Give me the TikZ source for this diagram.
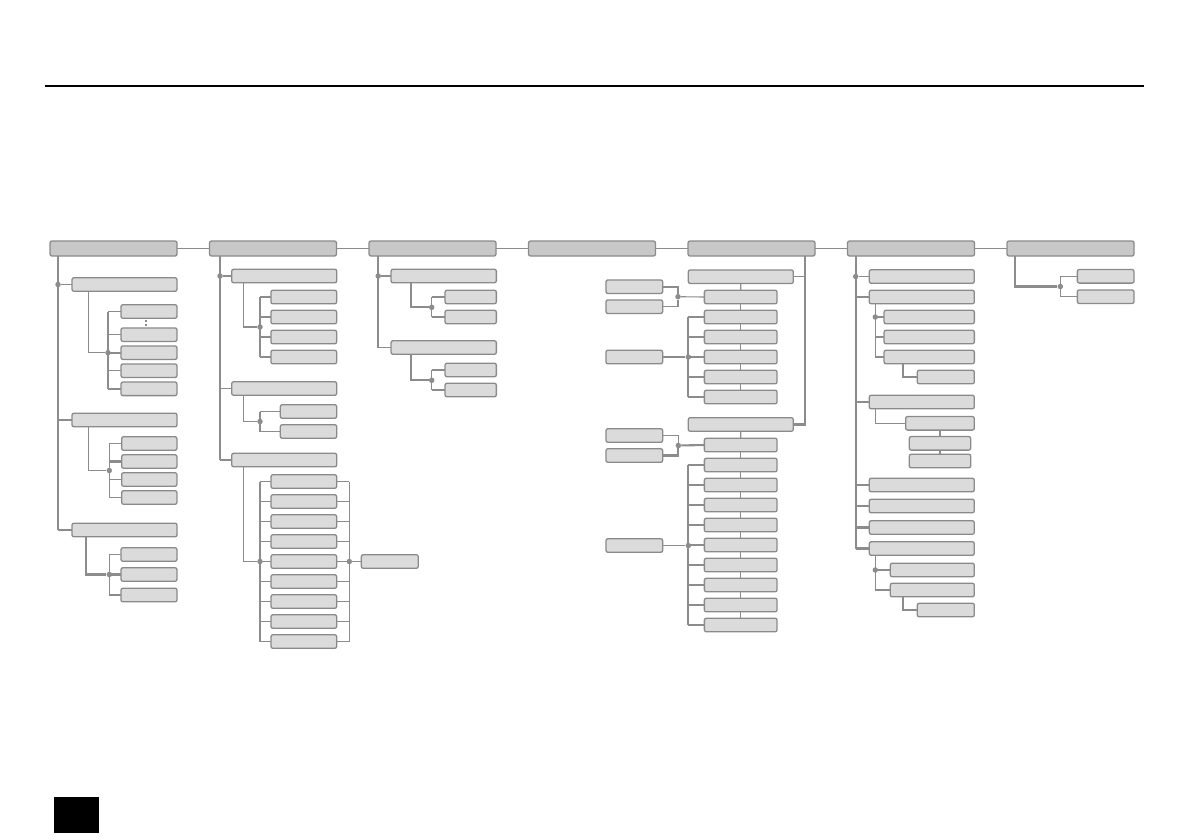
\documentclass[tikz,border=0pt]{standalone}
\usepackage{tikz}
\usetikzlibrary{positioning}
\definecolor{MenuEdge}{HTML}{8A8A8A}
\definecolor{MenuTop}{HTML}{C8C8C8}
\definecolor{MenuSub}{HTML}{DBDBDB}
\definecolor{MenuLink}{HTML}{8C8C8C}

\begin{document}
\begin{tikzpicture}[
            x=1pt,y=-1pt,
            menu/.style={draw=MenuEdge,fill=MenuSub,line width=1.3pt,rounded corners=2pt,
              inner sep=0pt,outer sep=0pt,minimum height=13.6pt},
            topbox/.style={menu,fill=MenuTop,minimum width=127pt,minimum height=15pt},
            link/.style={draw=MenuLink,line width=1.1pt},
            heavy/.style={draw=MenuLink,line width=2.1pt},
            dot/.style={circle,fill=MenuLink,inner sep=0pt,minimum size=5.5pt}
          ]
          \useasboundingbox (0,0) rectangle (1191,839);
          \draw[line width=2.3pt] (45,86) -- (1144,86);
          \fill (54,797) rectangle (99,833);

          % top row
          \foreach \i/\x in {1/113.5,2/273,3/432.5,4/592,5/751.5,6/911,7/1070.5}
            \node[topbox] (m\i) at (\x,248.5) {};
          \foreach \i/\j in {1/2,2/3,3/4,4/5,5/6,6/7}
            \draw[link] (m\i.east) -- (m\j.west);

          % column 1
          \node[menu,minimum width=105pt] (m1a) at (124.5,284.5) {};
          \foreach \k/\y in {1/311.5,2/334.7,3/352.7,4/370.7,5/388.8}
            \node[menu,minimum width=56pt] (m1a\k) at (149,\y) {};
          \node[menu,minimum width=105pt] (m1b) at (124.5,420) {};
          \foreach \k/\y in {1/443.5,2/461.5,3/479.5,4/497.5}
            \node[menu,minimum width=55.3pt] (m1b\k) at (149.3,\y) {};
          \node[menu,minimum width=105pt] (m1c) at (124.5,530) {};
          \foreach \k/\y in {1/554.5,2/574.5,3/595}
            \node[menu,minimum width=56pt] (m1c\k) at (149,\y) {};
          \coordinate (s1) at ([xshift=8pt]m1.south west);
          \node[dot] (j1) at (s1 |- m1a.west) {};
          \node[dot] (j1a) at (108,352.7) {};
          \node[dot] (j1b) at (109.3,470.5) {};
          \node[dot] (j1c) at (109.3,574.5) {};
          \draw[link] (s1) -- (s1 |- m1c.west);
          \draw[link] (j1) -- (m1a.west);
          \draw[link] (s1 |- m1b.west) -- (m1b.west);
          \draw[heavy] (s1 |- m1c.west) -- (m1c.west);
          \draw[link] ([xshift=16.7pt]m1a.south west) |- (j1a);
          \draw[link] (j1a |- m1a1.west) -- (j1a |- m1a5.west);
          \foreach \k/\w in {1/link,2/link,3/heavy,4/link,5/heavy}
            \draw[\w] (j1a |- m1a\k.west) -- (m1a\k.west);
          \draw[MenuLink,line width=1.4pt,dash pattern=on 2pt off 2pt]
            ([xshift=-3pt,yshift=-2pt]m1a1.south) -- ([xshift=-3pt,yshift=2pt]m1a2.north);
          \draw[link] ([xshift=16.7pt]m1b.south west) |- (j1b);
          \draw[link] (j1b |- m1b1.west) -- (j1b |- m1b4.west);
          \foreach \k/\w in {1/link,2/heavy,3/link,4/link}
            \draw[\w] (j1b |- m1b\k.west) -- (m1b\k.west);
          \draw[heavy] ([xshift=13.7pt]m1c.south west) |- (j1c);
          \draw[link] (j1c |- m1c1.west) -- (j1c |- m1c3.west);
          \foreach \k/\w in {1/link,2/heavy,3/link}
            \draw[\w] (j1c |- m1c\k.west) -- (m1c\k.west);

          % column 2
          \node[menu,minimum width=105pt] (m2a) at (284.2,276) {};
          \foreach \k/\y in {1/297,2/317,3/337,4/357}
            \node[menu,minimum width=65.7pt] (m2a\k) at (303.8,\y) {};
          \node[menu,minimum width=105pt] (m2b) at (284.2,388.5) {};
          \foreach \k/\y in {1/411.5,2/431.5}
            \node[menu,minimum width=56.4pt] (m2b\k) at (308.5,\y) {};
          \node[menu,minimum width=105pt] (m2c) at (284.2,460) {};
          \foreach \k in {1,...,9}
            \node[menu,minimum width=65.7pt] (m2c\k) at (303.8,461.5+20*\k) {};
          \node[menu,minimum width=57pt] (m2x) at (389.8,561.5) {};
          \coordinate (s2) at ([xshift=10.5pt]m2.south west);
          \node[dot] (j2) at (s2 |- m2a.west) {};
          \node[dot] (j2a) at (260,327) {};
          \node[dot] (j2b) at (260,421.5) {};
          \node[dot] (j2c) at (260,561.5) {};
          \node[dot] (j2x) at (349.3,561.5) {};
          \draw[heavy] (s2) -- (s2 |- m2c.west);
          \draw[link] (s2 |- m2c.west) -- (m2c.west);
          \draw[link] (j2) -- (m2a.west);
          \draw[link] (s2 |- m2b.west) -- (m2b.west);
          \draw[link] ([xshift=11.6pt]m2a.south west) |- (j2a);
          \draw[heavy] (j2a |- m2a1.west) -- (j2a |- m2a4.west);
          \foreach \k in {1,...,4}
            \draw[link] (j2a |- m2a\k.west) -- (m2a\k.west);
          \draw[link] ([xshift=11.6pt]m2b.south west) |- (j2b);
          \draw[heavy] (j2b |- m2b1.west) -- (j2b |- m2b2.west);
          \foreach \k in {1,2}
            \draw[link] (j2b |- m2b\k.west) -- (m2b\k.west);
          \draw[link] ([xshift=11.6pt]m2c.south west) |- (j2c);
          \draw[heavy] (j2c |- m2c1.west) -- (j2c |- m2c9.west);
          \draw[link] (j2x |- m2c1.east) -- (j2x |- m2c9.east);
          \foreach \k in {1,...,9} {
            \draw[link] (j2c |- m2c\k.west) -- (m2c\k.west);
            \draw[link] (m2c\k.east) -- (j2x |- m2c\k.east);
          }
          \draw[link] (j2x) -- (m2x.west);

          % column 3
          \node[menu,minimum width=105.3pt] (m3a) at (443.7,276) {};
          \node[menu,minimum width=105.3pt] (m3b) at (443.7,347.5) {};
          \foreach \k/\y in {1/297,2/317}
            \node[menu,minimum width=51.3pt] (m3a\k) at (470.7,\y) {};
          \foreach \k/\y in {1/370,2/390}
            \node[menu,minimum width=51.3pt] (m3b\k) at (470.7,\y) {};
          \coordinate (s3) at ([xshift=9.2pt]m3.south west);
          \node[dot] (j3) at (s3 |- m3a.west) {};
          \node[dot] (j3a) at (431.7,307.3) {};
          \node[dot] (j3b) at (431.7,380.3) {};
          \draw[heavy] (s3) -- (s3 |- m3b.west);
          \draw[link] (s3 |- m3b.west) -- (m3b.west);
          \draw[link] (j3) -- (m3a.west);
          \draw[heavy] ([xshift=19.7pt]m3a.south west) |- (j3a);
          \draw[heavy] ([xshift=19.7pt]m3b.south west) |- (j3b);
          \foreach \p in {a,b} {
            \draw[link] (j3\p |- m3\p1.west) -- (j3\p |- m3\p2.west);
            \draw[link] (j3\p |- m3\p1.west) -- (m3\p1.west);
            \draw[link] (j3\p |- m3\p2.west) -- (m3\p2.west);
          }

          % column 5
          \node[menu,minimum width=105pt] (m5a) at (740.8,276.7) {};
          \node[menu,minimum width=105pt] (m5b) at (740.8,424.5) {};
          \foreach \k in {1,...,6}
            \node[menu,minimum width=72.7pt] (m5a\k) at (740.7,277+20*\k) {};
          \foreach \k in {1,...,10}
            \node[menu,minimum width=72.7pt] (m5b\k) at (740.7,425+20*\k) {};
          \foreach \k/\y in {1/286.7,2/306.7,3/357,4/435.5,5/455.5,6/545.5}
            \node[menu,minimum width=56.7pt] (m5l\k) at (634.3,\y) {};
          \coordinate (s5) at ([xshift=-10pt]m5.south east);
          \node[dot] (j5a) at (678,296.7) {};
          \node[dot] (j5b) at (688.3,357) {};
          \node[dot] (j5c) at (678.3,445.5) {};
          \node[dot] (j5d) at (688.3,545.5) {};
          \draw[link] (m5a.east) -- (s5 |- m5a.east);
          \draw[heavy] (s5) |- (m5b.east);
          \draw[link] (m5a.south) -- (m5a1.north);
          \foreach \k [count=\n from 2] in {1,...,5}
            \draw[link] (m5a\k.south) -- (m5a\n.north);
          \draw[link] (m5b.south) -- (m5b1.north);
          \foreach \k [count=\n from 2] in {1,...,9}
            \draw[link] (m5b\k.south) -- (m5b\n.north);
          \draw[heavy] (m5l1.east) -| (j5a);
          \draw[link] (m5l2.east) -| (j5a);
          \draw[link] (j5a) -- (m5a1.west);
          \draw[heavy] (m5l3.east) -- (j5b);
          \draw[heavy] (j5b |- m5a2.west) -- (j5b |- m5a6.west);
          \foreach \k/\w in {2/heavy,3/link,4/heavy,5/heavy,6/heavy}
            \draw[\w] (j5b |- m5a\k.west) -- (m5a\k.west);
          \draw[link] (m5l4.east) -| (j5c);
          \draw[heavy] (m5l5.east) -| (j5c);
          \draw[heavy] (j5c) -- (m5b1.west);
          \draw[link] (m5l6.east) -- (j5d);
          \draw[heavy] (j5d |- m5b2.west) -- (j5d |- m5b10.west);
          \foreach \k/\w in {2/link,3/link,4/link,5/heavy,6/link,7/link,8/link,9/link,10/link}
            \draw[\w] (j5d |- m5b\k.west) -- (m5b\k.west);

          % column 6
          \foreach \p/\y in {a/276.5,b/297,c/402,d/485,e/506,f/527.5,g/548.5}
            \node[menu,minimum width=105pt] (m6\p) at (921.8,\y) {};
          \foreach \k/\y in {1/317,2/337,3/357}
            \node[menu,minimum width=90.3pt] (m6b\k) at (929.2,\y) {};
          \node[menu,minimum width=57pt] (m6b3a) at (945.8,377) {};
          \node[menu,minimum width=68.6pt] (m6c1) at (940,423.3) {};
          \node[menu,minimum width=61.4pt] (m6c2) at (940,443.3) {};
          \node[menu,minimum width=61.4pt] (m6c3) at (940,461) {};
          \foreach \k/\y in {1/570,2/590}
            \node[menu,minimum width=84pt] (m6g\k) at (932.3,\y) {};
          \node[menu,minimum width=57pt] (m6g2a) at (945.8,610) {};
          \coordinate (s6) at ([xshift=8.2pt]m6.south west);
          \node[dot] (j6) at (s6 |- m6a.west) {};
          \node[dot] (j6b) at (875.3,317) {};
          \node[dot] (j6g) at (875.3,570) {};
          \draw[heavy] (s6) -- (s6 |- m6g.west);
          \draw[heavy] (s6 |- m6g.west) -- (m6g.west);
          \draw[link] (j6) -- (m6a.west);
          \foreach \p/\w in {b/link,c/link,d/link,e/link,f/heavy}
            \draw[\w] (s6 |- m6\p.west) -- (m6\p.west);
          \draw[link] ([xshift=6pt]m6b.south west) -- (j6b |- m6b3.west);
          \draw[heavy] (j6b |- m6b3.west) -- (m6b3.west);
          \draw[link] (j6b) -- (m6b1.west);
          \draw[link] (j6b |- m6b2.west) -- (m6b2.west);
          \draw[heavy] ([xshift=18.7pt]m6b3.south west) |- (m6b3a.west);
          \draw[link] ([xshift=6pt]m6c.south west) |- (m6c1.west);
          \draw[heavy] (m6c1.south) -- (m6c2.north);
          \draw[heavy] (m6c2.south) -- (m6c3.north);
          \draw[link] ([xshift=6pt]m6g.south west) |- (m6g2.west);
          \draw[heavy] (j6g) -- (m6g1.west);
          \draw[heavy] ([xshift=12.4pt]m6g2.south west) |- (m6g2a.west);

          % column 7
          \node[menu,minimum width=56.7pt] (m7a) at (1105.7,276.3) {};
          \node[menu,minimum width=56.7pt] (m7b) at (1105.7,296.7) {};
          \node[dot] (j7) at (1060.3,286.5) {};
          \draw[heavy] ([xshift=8pt]m7.south west) |- (j7);
          \draw[link] (j7 |- m7a.west) -- (j7 |- m7b.west);
          \draw[link] (j7 |- m7a.west) -- (m7a.west);
          \draw[link] (j7 |- m7b.west) -- (m7b.west);
        \end{tikzpicture}
\end{document}
